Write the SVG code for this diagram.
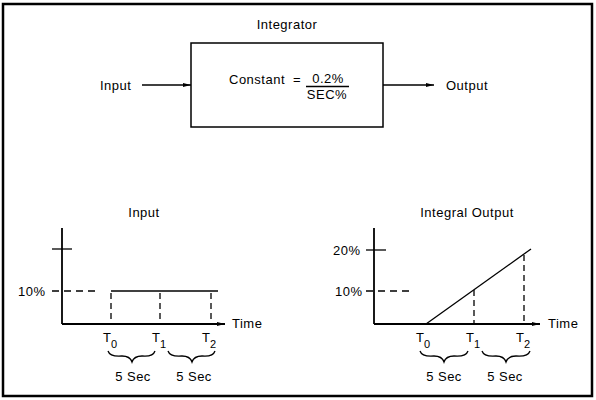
<svg xmlns="http://www.w3.org/2000/svg" width="596" height="400" viewBox="0 0 596 400">
<defs>
<style>
text{font-family:"Liberation Sans",Arial,sans-serif;font-size:13px;fill:#000;letter-spacing:0.5px}
.ln{stroke:#000;stroke-width:1.3;fill:none}
.ax{stroke:#000;stroke-width:1.8;fill:none}
.dash{stroke:#000;stroke-width:1.3;fill:none;stroke-dasharray:7,5}
.vd{stroke:#000;stroke-width:1.3;fill:none;stroke-dasharray:6,4}
.sub{font-size:11px}
.mid{text-anchor:middle}
</style>
<marker id="ah" markerWidth="8" markerHeight="6" refX="8" refY="3" orient="auto" markerUnits="userSpaceOnUse">
<path d="M0,1 L8,3 L0,5 Z" fill="#000"/>
</marker>
</defs>
<rect x="3" y="4" width="589" height="392" fill="#fff" stroke="#000" stroke-width="2.5"/>

<g id="integrator">
<text x="287" y="29" class="mid">Integrator</text>
<rect x="191" y="43" width="192" height="84" fill="none" stroke="#000" stroke-width="1.5"/>
<text x="229" y="84">Constant</text>
<text x="297" y="84" class="mid">=</text>
<text x="328" y="83" class="mid">0.2%</text>
<line x1="306" y1="86.5" x2="349" y2="86.5" class="ln"/>
<text x="327" y="99" class="mid">SEC%</text>
</g>
<g id="input-label"><text x="100" y="90">Input</text></g>
<g id="output-label"><text x="446" y="90">Output</text></g>

<g id="connectors">
<line x1="142" y1="85" x2="191" y2="85" class="ln" marker-end="url(#ah)"/>
<line x1="383" y1="85" x2="434" y2="85" class="ln" marker-end="url(#ah)"/>
</g>

<g id="input-graph">
<text x="144" y="217" class="mid">Input</text>
<line x1="62" y1="228" x2="62" y2="324" class="ax"/>
<line x1="62" y1="324" x2="225" y2="324" class="ax" marker-end="url(#ah)"/>
<line x1="52" y1="249" x2="72" y2="249" class="ln"/>
<line x1="52" y1="291" x2="97" y2="291" class="dash"/>
<text x="18" y="296">10%</text>
<line x1="111" y1="291" x2="218" y2="291" class="ln"/>
<line x1="111" y1="293" x2="111" y2="324" class="vd"/>
<line x1="160" y1="293" x2="160" y2="324" class="vd"/>
<line x1="211" y1="293" x2="211" y2="324" class="vd"/>
<text x="232" y="328">Time</text>
<text x="103" y="342">T</text><text x="111" y="348" class="sub">0</text>
<text x="152" y="342">T</text><text x="160" y="348" class="sub">1</text>
<text x="202" y="342">T</text><text x="210" y="348" class="sub">2</text>
<path d="M108,351 Q110,357 122,356 Q130,356 132,362 Q134,356 142,356 Q153,357 155,351" class="ln"/>
<path d="M168,351 Q170,357 182,356 Q190,356 192,362 Q194,356 202,356 Q213,357 215,351" class="ln"/>
<text x="133" y="381" class="mid">5  Sec</text>
<text x="194" y="381" class="mid">5  Sec</text>
</g>

<g id="output-graph">
<text x="467" y="217" class="mid">Integral  Output</text>
<line x1="374" y1="228" x2="374" y2="324" class="ax"/>
<line x1="374" y1="324" x2="540" y2="324" class="ax" marker-end="url(#ah)"/>
<line x1="366" y1="250" x2="386" y2="250" class="ln"/>
<line x1="366" y1="291" x2="410" y2="291" class="dash"/>
<text x="333" y="255">20%</text>
<text x="335" y="296">10%</text>
<line x1="426" y1="324" x2="531" y2="249" class="ln"/>
<line x1="474" y1="290" x2="474" y2="324" class="vd"/>
<line x1="524" y1="255" x2="524" y2="324" class="vd"/>
<text x="548" y="328">Time</text>
<text x="416" y="342">T</text><text x="424" y="348" class="sub">0</text>
<text x="466" y="342">T</text><text x="474" y="348" class="sub">1</text>
<text x="516" y="342">T</text><text x="524" y="348" class="sub">2</text>
<path d="M420,351 Q422,357 434,356 Q442,356 444,362 Q446,356 454,356 Q466,357 468,351" class="ln"/>
<path d="M482,351 Q484,357 496,356 Q504,356 506,362 Q508,356 516,356 Q528,357 530,351" class="ln"/>
<text x="444" y="381" class="mid">5  Sec</text>
<text x="505" y="381" class="mid">5  Sec</text>
</g>
</svg>
